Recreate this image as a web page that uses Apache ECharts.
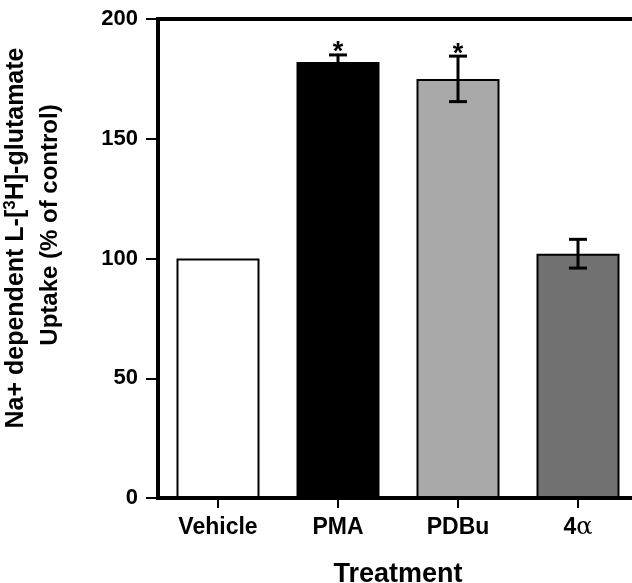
<!DOCTYPE html>
<html>
<head>
<meta charset="utf-8">
<script src="https://cdn.jsdelivr.net/npm/echarts@6/dist/echarts.min.js"></script>
<style>
  html, body { margin: 0; padding: 0; background: #ffffff; }
  #chart { width: 632px; height: 583px; }
</style>
</head>
<body>
<div id="chart"></div>
<script>
// ---- data ----
const categories = ['Vehicle', 'PMA', 'PDBu', '4α'];
const uptakeValues = [100, 182, 175, 102];
const uptakeErrors = [0, 3, 9.5, 6];
const significance = ['', '*', '*', ''];
const barColors = ['#ffffff', '#000000', '#a9a9a9', '#717171'];
const yTickMin = 0, yTickMax = 200, yTickStep = 50;

const FONT = '"Liberation Sans", Arial, Helvetica, sans-serif';

const chart = echarts.init(document.getElementById('chart'), null, { renderer: 'canvas' });

const barData = uptakeValues.map((v, i) => ({
  value: v,
  itemStyle: { color: barColors[i], borderColor: '#000', borderWidth: 2 }
}));
const errData = uptakeValues.map((v, i) => [i, v, uptakeErrors[i]]);

const option = {
  backgroundColor: '#ffffff',
  animation: false,
  grid: {
    left: 158, top: 19, width: 480, height: 479,
    outerBoundsMode: 'none',
    containLabel: false,
    show: true, borderColor: '#000', borderWidth: 4, backgroundColor: 'transparent'
  },
  xAxis: {
    type: 'category',
    data: categories,
    axisLine: { show: true, lineStyle: { color: '#000', width: 4 } },
    axisTick: { show: true, alignWithLabel: true, length: 10, lineStyle: { color: '#000', width: 2 } },
    axisLabel: {
      interval: 0,
      hideOverlap: false,
      margin: 18, color: '#000', fontSize: 23, fontWeight: 'bold', fontFamily: FONT,
      formatter: function (val) {
        if (val === '4α') return '{n|4}{g|α}';
        return '{n|' + val + '}';
      },
      rich: {
        n: { fontSize: 23, fontWeight: 'bold', fontFamily: FONT, color: '#000' },
        g: { fontSize: 24, fontWeight: 'normal', fontFamily: '"DejaVu Serif", serif', color: '#000' }
      }
    },
    name: 'Treatment',
    nameLocation: 'middle',
    nameGap: 63,
    nameTextStyle: { color: '#000', fontSize: 27, fontWeight: 'bold', fontFamily: FONT },
    splitLine: { show: false }
  },
  yAxis: {
    type: 'value',
    min: yTickMin, max: yTickMax, interval: yTickStep,
    axisLine: { show: true, lineStyle: { color: '#000', width: 4 } },
    axisTick: { show: true, length: 12, lineStyle: { color: '#000', width: 2 } },
    axisLabel: { margin: 20, color: '#000', fontSize: 22, fontWeight: 'bold', fontFamily: FONT },
    splitLine: { show: false }
  },
  series: [
    {
      type: 'bar',
      data: barData,
      barWidth: 83,
      z: 2
    },
    {
      type: 'custom',
      z: 3,
      data: errData,
      renderItem: function (params, api) {
        const i = api.value(0);
        const v = api.value(1);
        const e = api.value(2);
        const sig = significance[params.dataIndex];
        const children = [];
        const top = api.coord([i, v + e]);
        const bot = api.coord([i, v - e]);
        const x = top[0];
        const hw = 9;
        const st = { stroke: '#000', lineWidth: 3 };
        if (e > 0) {
          children.push({ type: 'line', shape: { x1: x, y1: top[1], x2: x, y2: bot[1] }, style: st });
          children.push({ type: 'line', shape: { x1: x - hw, y1: top[1], x2: x + hw, y2: top[1] }, style: st });
          children.push({ type: 'line', shape: { x1: x - hw, y1: bot[1], x2: x + hw, y2: bot[1] }, style: st });
        }
        if (sig) {
          children.push({
            type: 'text',
            style: {
              text: sig, x: x, y: top[1] - 2,
              fill: '#000', font: 'bold 27px ' + FONT,
              align: 'center', verticalAlign: 'middle'
            }
          });
        }
        return { type: 'group', children: children };
      }
    }
  ],
  graphic: [
    {
      type: 'text',
      x: 16, y: 238,
      rotation: Math.PI / 2,
      style: {
        text: '{a|Na+ dependent L-[}{s|3}{a|H]-glutamate}',
        align: 'center',
        verticalAlign: 'middle',
        fill: '#000',
        rich: {
          a: { fontSize: 25, fontWeight: 'bold', fontFamily: FONT, lineHeight: 30, fill: '#000' },
          s: { fontSize: 17, fontWeight: 'bold', fontFamily: FONT, lineHeight: 30, fill: '#000', verticalAlign: 'top', padding: [1, 0, 0, 0] }
        }
      }
    },
    {
      type: 'text',
      x: 50, y: 225,
      rotation: Math.PI / 2,
      style: {
        text: 'Uptake (% of control)',
        align: 'center',
        verticalAlign: 'middle',
        fill: '#000',
        font: 'bold 24px ' + FONT
      }
    }
  ]
};

chart.setOption(option);
</script>
</body>
</html>
